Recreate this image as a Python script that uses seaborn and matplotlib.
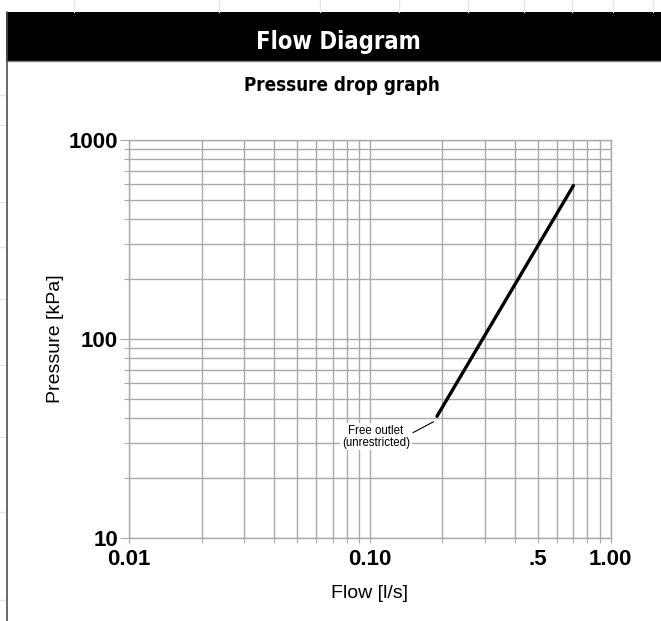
import numpy as np
import pandas as pd
import seaborn as sns
import matplotlib.pyplot as plt
from matplotlib import font_manager
from matplotlib.font_manager import FontProperties
from matplotlib.patches import Rectangle
from matplotlib.lines import Line2D
from matplotlib.ticker import FixedLocator, LogLocator, NullFormatter

# pressure drop curve
flow = [0.19, 0.70]
pressure = [41, 590]

x_ticks = [0.01, 0.1, 0.5, 1.0]
x_ticklabels = ["0.01", "0.10", ".5", "1.00"]
y_ticks = [10, 100, 1000]
y_ticklabels = ["10", "100", "1000"]

note_text = "Free outlet\n(unrestricted)"
note_xy = (0.184, 38.5)
note_text_xy = (0.106, 32.4)

W, H = 661, 621
grid_col = "#a9a9a9"

sns.set_theme(style="white")
plt.rcParams["font.family"] = ["Liberation Sans", "DejaVu Sans"]
plt.rcParams["text.color"] = "black"
plt.rcParams["axes.labelcolor"] = "black"

# look for a narrow bold sans face for the header texts
narrow_file = None
for f in font_manager.fontManager.ttflist:
    st = str(f.stretch)
    if f.weight not in (700, "bold") or "Mono" in f.name or "Serif" in f.name:
        continue
    if "italic" in str(f.style) or "oblique" in str(f.style):
        continue
    if "condensed" in st or "narrow" in f.name.lower():
        narrow_file = f.fname
        break


def header_font(size):
    if narrow_file:
        return FontProperties(fname=narrow_file, size=size)
    return FontProperties(family="DejaVu Sans", weight="bold", size=size * 0.8)


def fx(x):
    return x / W


def fy(y):
    return 1 - y / H


fig = plt.figure(figsize=(W / 100, H / 100), dpi=100)

# faint page gridlines behind the panel
for x in [74, 219, 320, 399, 468, 524, 572, 613, 653]:
    fig.add_artist(Line2D([fx(x), fx(x)], [fy(0), fy(11.5)], color="#e6e6e6", lw=1))
for y in [95, 125, 202, 247, 299, 365, 437, 512, 600]:
    fig.add_artist(Line2D([fx(0), fx(6)], [fy(y), fy(y)], color="#e6e6e6", lw=1))

# header band and panel border
fig.add_artist(Rectangle((fx(6), fy(60.5)), 1 - fx(6), fy(11.7) - fy(60.5),
                         transform=fig.transFigure, fc="black", ec="none"))
fig.add_artist(Line2D([fx(6), 1], [fy(60.5), fy(60.5)], color="#808080", lw=1))
fig.add_artist(Line2D([fx(6.5), fx(6.5)], [fy(11.7), 0], color="#505050", lw=1.2))

fig.text(fx(338), fy(48.8), "Flow Diagram", color="white",
         fontproperties=header_font(17), ha="center", va="baseline")
fig.text(fx(342), fy(91), "Pressure drop graph", color="black",
         fontproperties=header_font(13.5), ha="center", va="baseline")

ax = fig.add_axes([fx(129), fy(538.3), fx(610.7) - fx(129), fy(140) - fy(538.3)])

df = pd.DataFrame({"flow": flow, "pressure": pressure})
sns.lineplot(data=df, x="flow", y="pressure", ax=ax, color="black", lw=2.4)

ax.set_xscale("log")
ax.set_yscale("log")
ax.set_xlim(0.01, 1)
ax.set_ylim(10, 1000)

ax.xaxis.set_major_locator(FixedLocator(x_ticks))
ax.xaxis.set_minor_locator(LogLocator(base=10, subs=np.arange(2, 10)))
ax.xaxis.set_minor_formatter(NullFormatter())
ax.set_xticklabels(x_ticklabels, fontweight="bold", fontsize=16)
ax.yaxis.set_major_locator(FixedLocator(y_ticks))
ax.yaxis.set_minor_locator(LogLocator(base=10, subs=np.arange(2, 10)))
ax.yaxis.set_minor_formatter(NullFormatter())
ax.set_yticklabels(y_ticklabels, fontweight="bold", fontsize=16)

ax.set_axisbelow(True)
ax.grid(which="both", color=grid_col, lw=1.0)
for s in ax.spines.values():
    s.set_color(grid_col)
    s.set_linewidth(1.0)

ax.tick_params(axis="x", which="both", bottom=True, length=3.3, width=0.8,
               color=grid_col, labelcolor="black", pad=4.5)
ax.tick_params(axis="y", which="major", left=True, length=6.5, width=0.8,
               color=grid_col, labelcolor="black", pad=1.5)
ax.tick_params(axis="y", which="minor", left=True, length=3.6, width=0.8,
               color=grid_col)

ax.set_xlabel("Flow [l/s]", fontsize=14, labelpad=11, color="black")
ax.set_ylabel("Pressure [kPa]", fontsize=14, labelpad=3, color="black")

ax.annotate(note_text, xy=note_xy, xytext=note_text_xy, ha="center", va="center",
            fontsize=8.3, linespacing=1.0, color="black",
            bbox=dict(boxstyle="square,pad=0.15", fc="white", ec="none"),
            arrowprops=dict(arrowstyle="-", color="black", lw=0.8,
                            relpos=(1.0, 0.6), shrinkA=1, shrinkB=0))

fig.savefig("out.png", dpi=100)
